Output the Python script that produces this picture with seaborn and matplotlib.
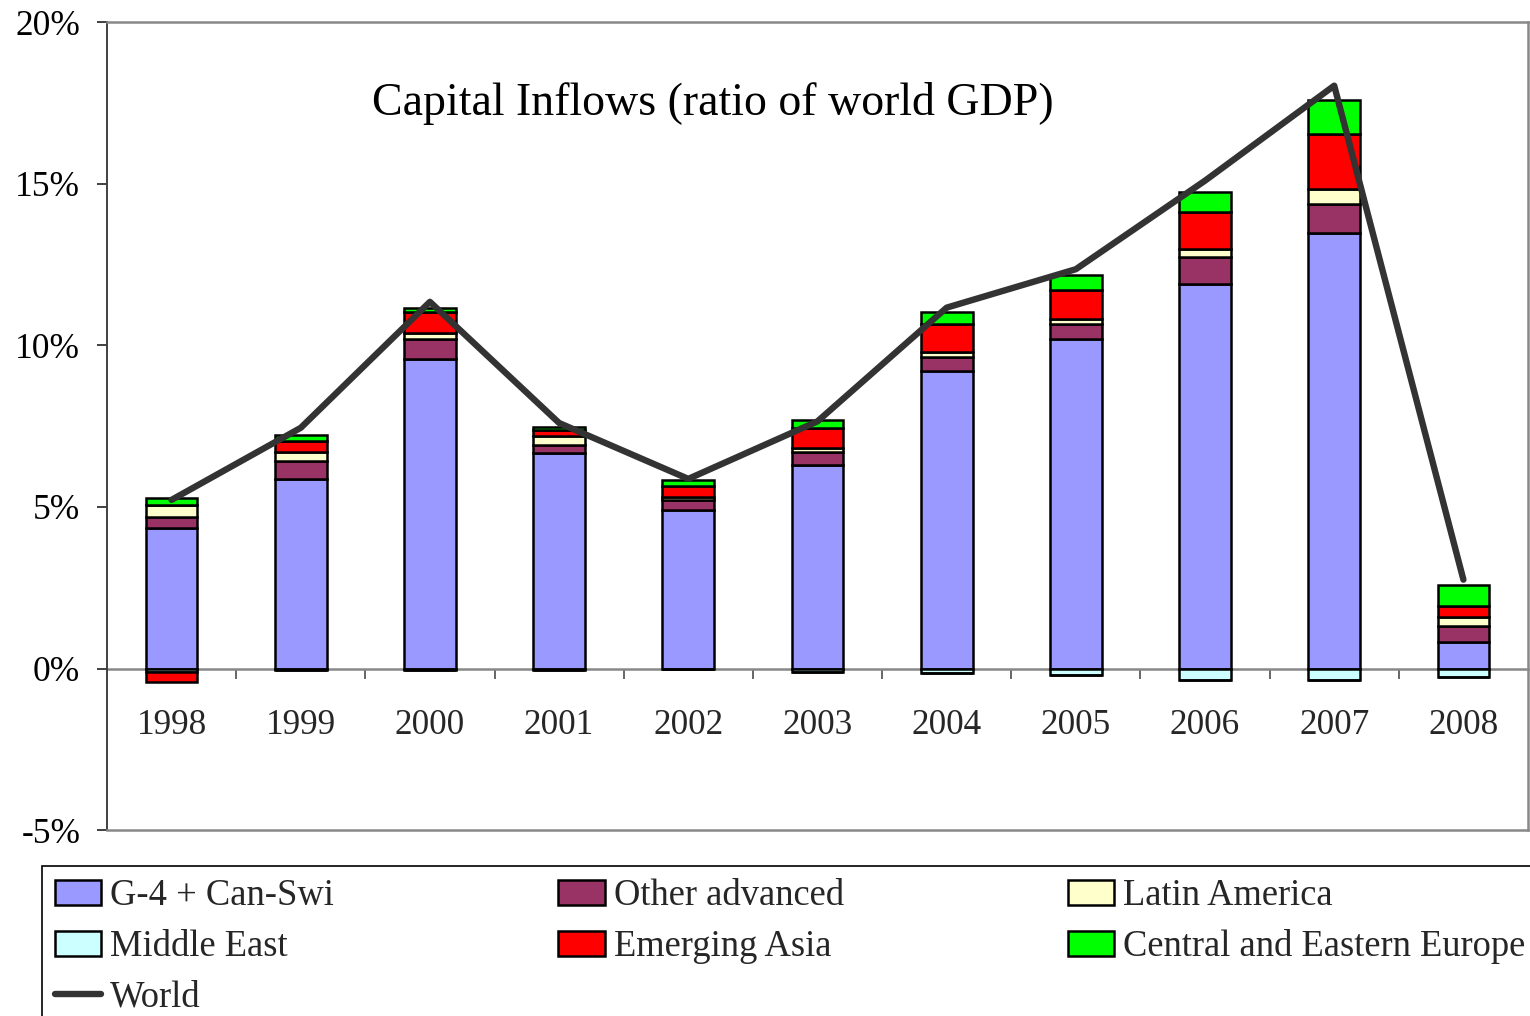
import numpy as np
import pandas as pd
import matplotlib
matplotlib.use("Agg")
import matplotlib.pyplot as plt
from matplotlib.patches import Patch
from matplotlib.lines import Line2D
from matplotlib.ticker import FuncFormatter
import seaborn as sns

# Capital inflows by region, percent of world GDP
years = ["1998", "1999", "2000", "2001", "2002", "2003", "2004", "2005", "2006", "2007", "2008"]
g4_can_swi = [4.36, 5.87, 9.57, 6.67, 4.91, 6.29, 9.20, 10.19, 11.89, 13.48, 0.82]
other_advanced = [0.34, 0.56, 0.62, 0.26, 0.31, 0.40, 0.45, 0.46, 0.86, 0.90, 0.50]
latin_america = [0.36, 0.28, 0.18, 0.27, 0.10, 0.13, 0.15, 0.16, 0.23, 0.45, 0.27]
middle_east = [-0.10, -0.06, -0.06, -0.04, -0.02, -0.11, -0.14, -0.19, -0.34, -0.34, -0.25]
emerging_asia = [-0.32, 0.34, 0.68, 0.19, 0.33, 0.62, 0.85, 0.90, 1.16, 1.71, 0.33]
central_eastern_europe = [0.21, 0.19, 0.12, 0.10, 0.19, 0.26, 0.39, 0.48, 0.60, 1.07, 0.68]
world = [5.22, 7.45, 11.35, 7.60, 5.87, 7.65, 11.17, 12.36, 15.10, 18.04, 2.75]

series_names = ["G-4 + Can-Swi", "Other advanced", "Latin America",
                "Middle East", "Emerging Asia", "Central and Eastern Europe"]
series_values = [g4_can_swi, other_advanced, latin_america,
                 middle_east, emerging_asia, central_eastern_europe]
series_colors = ["#9999FF", "#993366", "#FFFFCC", "#CCFFFF", "#FF0000", "#00FF00"]
world_color = "#333333"

sns.set_theme(style="white")
plt.rcParams["font.family"] = ["Liberation Serif", "DejaVu Serif"]

fig, ax = plt.subplots(figsize=(15.3, 10.16), dpi=100)
fig.subplots_adjust(left=0.0699, right=0.9987, bottom=0.183, top=0.978)

ymin, ymax = -5, 20

# Stacked bars: positive parts build upward, negative parts build downward
pos_base = np.zeros(len(years))
neg_base = np.zeros(len(years))
for name, vals, col in zip(series_names, series_values, series_colors):
    v = np.asarray(vals, dtype=float)
    pos = np.where(v > 0, v, 0.0)
    neg = np.where(v < 0, v, 0.0)
    if pos.any():
        sns.barplot(x=years, y=pos, bottom=pos_base, color=col, saturation=1,
                    width=0.4, edgecolor="black", linewidth=1.8, ax=ax)
        pos_base = pos_base + pos
    if neg.any():
        sns.barplot(x=years, y=neg, bottom=neg_base, color=col, saturation=1,
                    width=0.4, edgecolor="black", linewidth=1.8, ax=ax)
        neg_base = neg_base + neg

# World total as a line
sns.pointplot(x=years, y=world, color=world_color, marker="", linewidth=4.6,
              errorbar=None, ax=ax)

ax.set_ylim(ymin, ymax)
ax.set_xlim(-0.5, len(years) - 0.5)
ax.set_xticks([])
ax.set_xlabel("")
ax.set_ylabel("")
ax.set_yticks(np.arange(ymin, ymax + 1, 5))
ax.yaxis.set_major_formatter(FuncFormatter(lambda v, _: f"{v:.0f}%".replace("\u2212", "-")))
ax.tick_params(axis="y", left=True, length=7.2, width=1.4, color="#404040",
               direction="out", pad=12, labelsize=25.5, labelcolor="black")
ax.grid(False)

for side in ["top", "right", "bottom"]:
    ax.spines[side].set_color("#888888")
    ax.spines[side].set_linewidth(1.8)
ax.spines["left"].set_color("#404040")
ax.spines["left"].set_linewidth(1.4)

# Category axis running along the zero line
zero_loc = (0 - ymin) / (ymax - ymin)
sec = ax.secondary_xaxis(zero_loc)
sec.set_xticks(np.arange(len(years)), labels=years)
sec.set_xticks(np.arange(len(years) - 1) + 0.5, minor=True)
sec.tick_params(axis="x", which="major", length=0, pad=29, labelsize=25.3, bottom=True)
sec.tick_params(axis="x", which="minor", length=7.2, width=1.4, color="#666666",
                direction="out", bottom=True)
sec.spines["bottom"].set_color("#888888")
sec.spines["bottom"].set_linewidth(1.8)

ax.text(0.426, 0.899, "Capital Inflows (ratio of world GDP)", transform=ax.transAxes,
        ha="center", va="center", fontsize=33, color="black")

handles = [Patch(facecolor=c, edgecolor="black", linewidth=1.8) for c in series_colors]
handles.append(Line2D([], [], color=world_color, linewidth=4.6))
labels = series_names + ["World"]
# column-major order so rows read left to right
order = [0, 3, 6, 1, 4, 2, 5]
leg = fig.legend([handles[i] for i in order], [labels[i] for i in order],
                 loc="upper left", bbox_to_anchor=(0.02745, -0.1, 0.978, 0.2476),
                 mode="expand", ncol=3, fontsize=26.3, frameon=True, fancybox=False,
                 edgecolor="black", framealpha=1, borderaxespad=0, borderpad=0.35,
                 handlelength=1.27, handleheight=0.68, handletextpad=0.25,
                 labelspacing=0.44)
leg.get_frame().set_linewidth(1.2)

fig.savefig("out.png", dpi=100)
